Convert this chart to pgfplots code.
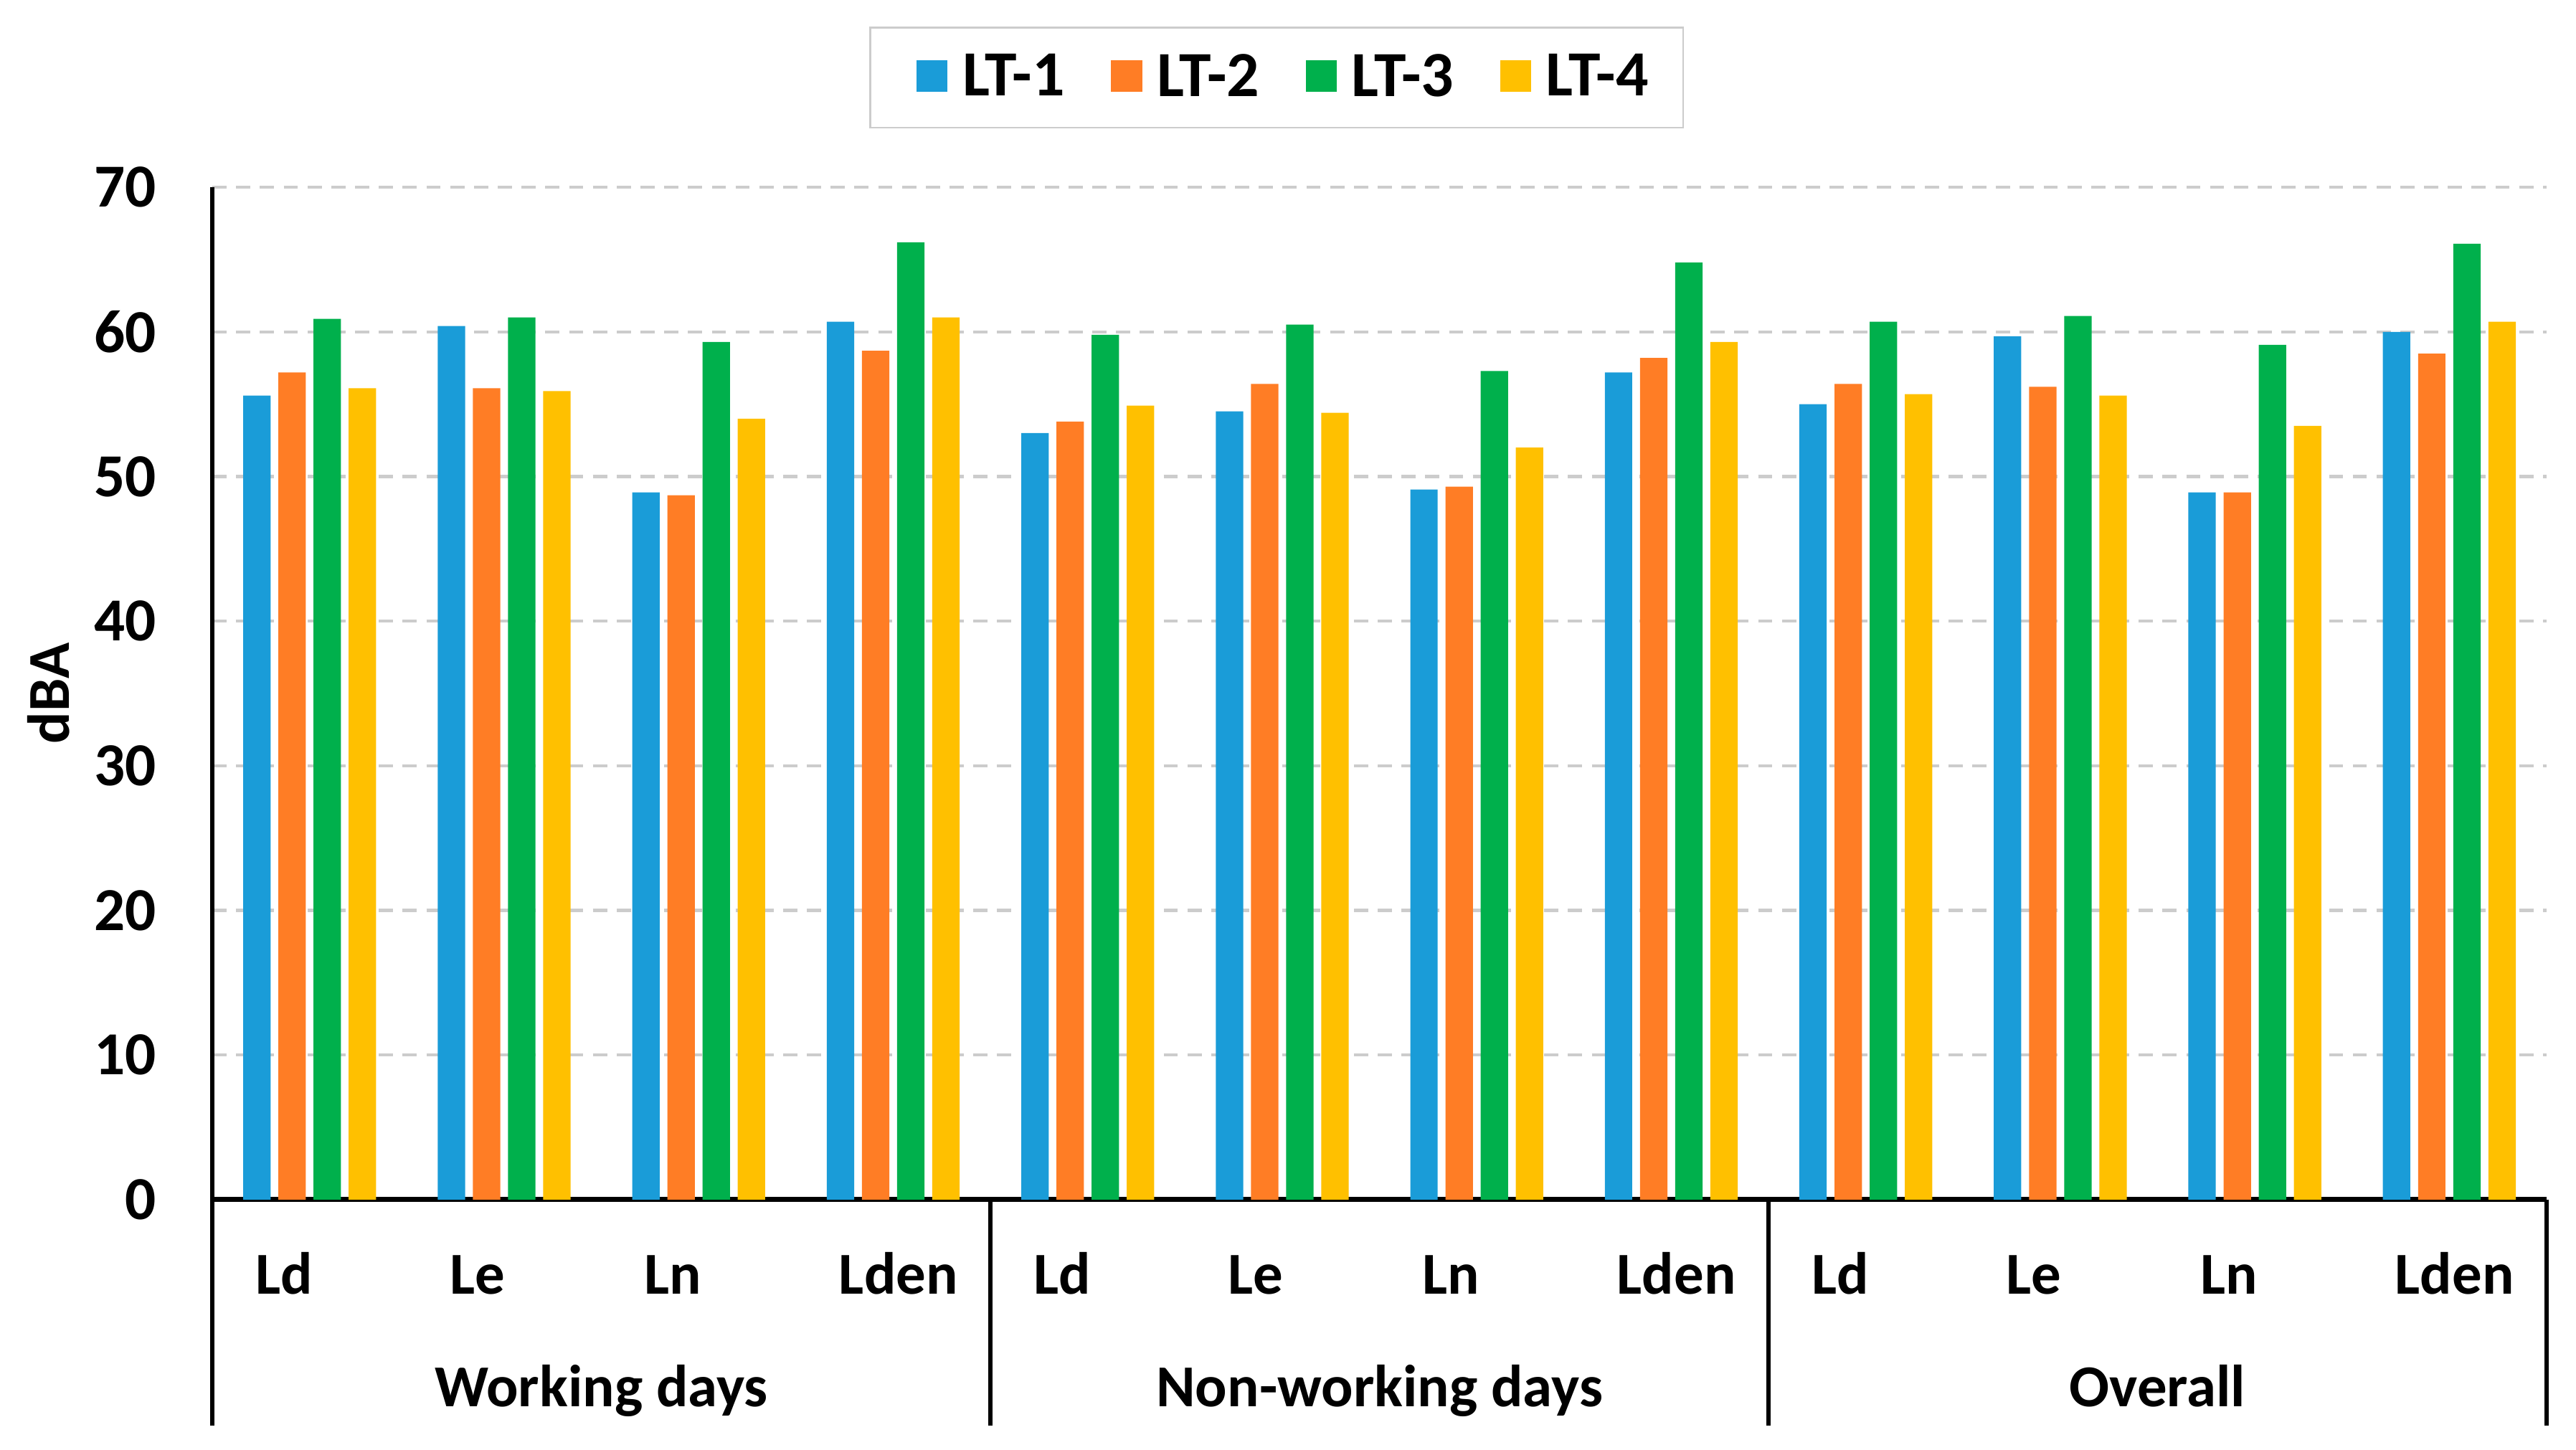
\documentclass[border=0pt]{standalone}
\usepackage{pgfplots}
\pgfplotsset{compat=1.18}
\usepackage{fontspec}
\setmainfont{Carlito}
\definecolor{cA}{RGB}{26,156,216}
\definecolor{cB}{RGB}{255,125,37}
\definecolor{cC}{RGB}{0,176,76}
\definecolor{cD}{RGB}{255,192,0}
\newcommand{\fs}{\fontsize{18}{22}\selectfont\bfseries}
\begin{document}
\begin{tikzpicture}
\begin{axis}[
  name=ax,
  scale only axis,
  width=706.7pt, height=306.5pt,
  ybar=2.35pt, bar width=8.3pt,
  xmin=-0.5, xmax=11.5,
  ymin=0, ymax=70,
  ytick={0,10,...,70},
  xtick={0,...,11},
  xticklabels={Ld,Le,Ln,Lden,Ld,Le,Ln,Lden,Ld,Le,Ln,Lden},
  major tick length=0pt,
  axis x line*=bottom, axis y line*=left,
  x axis line style={line width=1.5pt, -},
  y axis line style={line width=1.4pt, -},
  ymajorgrids,
  grid style={gray!40, line width=0.9pt, dash pattern=on 4.3pt off 2.9pt},
  /pgf/number format/assume math mode=true,
  yticklabel style={font=\fontsize{18.5}{22}\selectfont\bfseries, anchor=east, inner sep=0pt, xshift=-16.8pt},
  xticklabel style={font=\fs, anchor=base west, inner sep=0pt, xshift=-16.6pt, yshift=-28.7pt},
  ylabel={dBA},
  every axis y label/.style={at={(rel axis cs:0,0.5)}, xshift=-49.6pt, rotate=90, anchor=center, font=\fs},
  clip=false,
  legend columns=4,
  legend style={at={(rel axis cs:0.456,1)}, yshift=33.2pt, anchor=center,
    draw=gray!40, line width=0.6pt, font=\fontsize{19.5}{23}\selectfont\bfseries, inner xsep=8.5pt, inner ysep=6pt,
    /tikz/every odd column/.append style={column sep=2.5pt},
    /tikz/every even column/.append style={column sep=6.5pt}},
  legend image code/.code={\path (0pt,0pt); \fill[#1, draw=none] (5.5pt,-4.3pt) rectangle (14.9pt,5.3pt);},
  every axis plot/.append style={draw=none},
]
\addplot[fill=cA] coordinates {(0,55.6) (1,60.4) (2,48.9) (3,60.7) (4,53.0) (5,54.5) (6,49.1) (7,57.2) (8,55.0) (9,59.7) (10,48.9) (11,60.0)};
\addplot[fill=cB] coordinates {(0,57.2) (1,56.1) (2,48.7) (3,58.7) (4,53.8) (5,56.4) (6,49.3) (7,58.2) (8,56.4) (9,56.2) (10,48.9) (11,58.5)};
\addplot[fill=cC] coordinates {(0,60.9) (1,61.0) (2,59.3) (3,66.2) (4,59.8) (5,60.5) (6,57.3) (7,64.8) (8,60.7) (9,61.1) (10,59.1) (11,66.1)};
\addplot[fill=cD] coordinates {(0,56.1) (1,55.9) (2,54.0) (3,61.0) (4,54.9) (5,54.4) (6,52.0) (7,59.3) (8,55.7) (9,55.6) (10,53.5) (11,60.7)};
\legend{LT-1,LT-2,LT-3,LT-4}
\pgfplotsinvokeforeach{-0.5,3.5,7.5,11.5}{
  \draw[line width=1.2pt] (axis cs:#1,0) -- ++(0pt,-68.5pt);
}
\node[font=\fs, anchor=base] at ([yshift=-62.7pt]axis cs:1.5,0) {Working days};
\node[font=\fs, anchor=base] at ([yshift=-62.7pt]axis cs:5.5,0) {Non-working days};
\node[font=\fs, anchor=base] at ([yshift=-62.7pt]axis cs:9.5,0) {Overall};
\end{axis}
\pgfresetboundingbox
\path ([shift={(-64.3pt,-75.8pt)}]ax.south west) rectangle ([shift={(8.9pt,56.7pt)}]ax.north east);
\end{tikzpicture}
\end{document}
